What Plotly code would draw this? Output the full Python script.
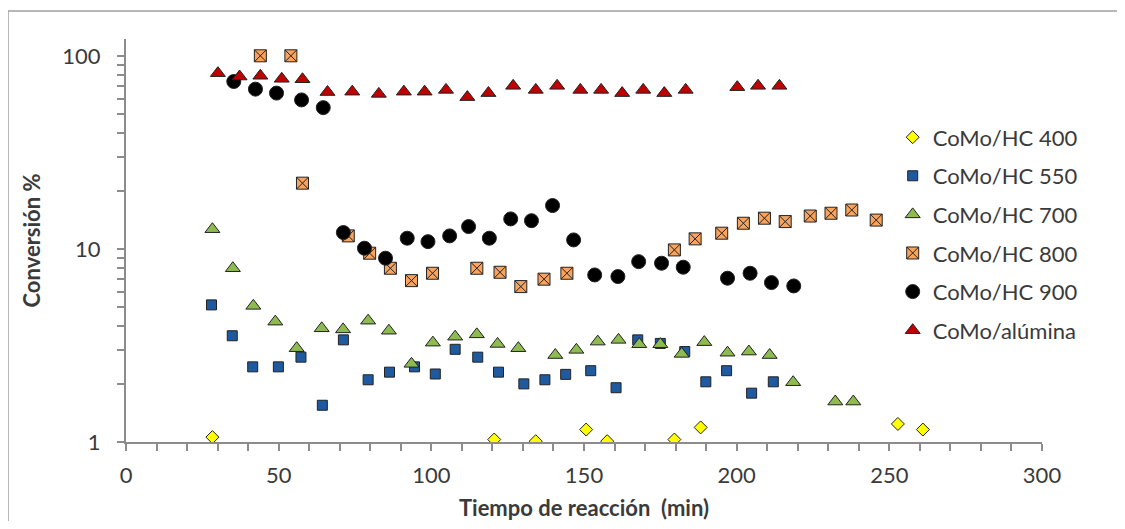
import plotly.graph_objects as go

# ---- data ----
time_400 = [28.3, 120.6, 134.2, 150.7, 157.6, 179.6, 188.2, 252.8, 261.0]
conv_400 = [1.06, 1.03, 1.01, 1.16, 1.01, 1.03, 1.19, 1.24, 1.16]

time_550 = [28.0, 34.8, 41.5, 49.9, 57.3, 64.3, 71.2, 79.3, 86.3, 94.5, 101.3, 107.8,
            115.2, 122.0, 130.3, 137.2, 144.0, 152.2, 160.5, 167.6, 175.0, 183.0,
            189.9, 196.7, 204.9, 212.0]
conv_550 = [5.13, 3.55, 2.45, 2.45, 2.75, 1.55, 3.38, 2.10, 2.30, 2.45, 2.25, 3.02,
            2.75, 2.30, 2.00, 2.10, 2.24, 2.34, 1.91, 3.38, 3.24, 2.94, 2.05, 2.34,
            1.79, 2.05]

time_700 = [28.3, 35.0, 41.7, 48.9, 55.9, 64.1, 71.1, 79.3, 86.1, 93.5, 100.5, 107.8,
            114.9, 121.7, 128.5, 140.6, 147.5, 154.5, 161.3, 168.1, 175.0, 182.0,
            189.4, 197.0, 204.0, 210.8, 218.5, 232.3, 238.2]
conv_700 = [12.65, 7.94, 5.07, 4.20, 3.06, 3.88, 3.83, 4.25, 3.77, 2.54, 3.27, 3.51,
            3.61, 3.22, 3.06, 2.82, 3.00, 3.31, 3.38, 3.21, 3.21, 2.86, 3.29, 2.90,
            2.94, 2.82, 2.04, 1.62, 1.62]

time_800 = [44.0, 54.0, 57.8, 72.8, 79.8, 86.6, 93.5, 100.4, 114.9, 122.5, 129.3,
            136.9, 144.4, 179.6, 186.4, 195.1, 202.2, 209.1, 215.9, 224.1, 230.9,
            237.7, 245.7]
conv_800 = [100.0, 100.0, 21.9, 11.68, 9.5, 7.94, 6.85, 7.48, 7.94, 7.57, 6.38, 6.97,
            7.48, 9.88, 11.27, 12.06, 13.58, 14.42, 13.85, 14.8, 15.3, 15.9, 14.1]

time_900 = [35.3, 42.4, 49.3, 57.5, 64.6, 71.2, 78.1, 85.0, 92.1, 98.9, 106.0, 112.2,
            119.0, 126.0, 132.8, 139.7, 146.6, 153.5, 161.1, 167.9, 175.4, 182.5,
            197.0, 204.4, 211.4, 218.7]
conv_900 = [73.6, 67.2, 64.1, 59.1, 53.9, 12.15, 10.08, 8.95, 11.36, 10.9, 11.68, 13.05,
            11.36, 14.3, 14.0, 16.77, 11.13, 7.33, 7.19, 8.59, 8.43, 8.04, 7.05, 7.48,
            6.69, 6.43]

time_alu = [30.1, 37.2, 44.0, 51.0, 57.8, 66.0, 74.1, 82.8, 91.0, 97.8, 104.8, 111.8,
            118.7, 126.8, 134.2, 141.2, 148.8, 155.6, 162.5, 169.4, 176.3, 183.3,
            200.2, 207.0, 214.0]
conv_alu = [81.3, 78.1, 78.8, 76.0, 75.6, 64.9, 65.2, 63.5, 65.2, 65.2, 66.6, 61.1,
            64.1, 69.9, 66.6, 69.9, 66.6, 66.6, 64.1, 66.6, 64.1, 66.6, 68.8, 69.9, 69.9]

series_names = ["CoMo/HC 400", "CoMo/HC 550", "CoMo/HC 700",
                "CoMo/HC 800", "CoMo/HC 900", "CoMo/alúmina"]

x_ticks = [0, 50, 100, 150, 200, 250, 300]
y_ticks = [1, 10, 100]

# ---- styling ----
FONT = "Lato"
TXT = "#3a3a3a"
AX = "#8c8c8c"
OUT = "#222222"

styles = [
    dict(symbol="diamond", size=10, color="#FFFF00"),
    dict(symbol="square", size=10, color="#1F5AA0"),
    dict(symbol="triangle-up", size=13, color="#8DBB4F"),
    dict(symbol="square-x", size=12, color="#F9A35C"),
    dict(symbol="circle", size=14, color="#000000"),
    dict(symbol="triangle-up", size=13, color="#C00000"),
]

data = [(time_400, conv_400), (time_550, conv_550), (time_700, conv_700),
        (time_800, conv_800), (time_900, conv_900), (time_alu, conv_alu)]

fig = go.Figure()
for i, ((t, c), name, st) in enumerate(zip(data, series_names, styles)):
    fig.add_trace(go.Scatter(
        x=t, y=c, mode="markers", name=name, legendgroup=f"g{i}",
        marker=dict(symbol=st["symbol"], size=st["size"], color=st["color"],
                    line=dict(color=OUT, width=1)),
    ))

# log-axis tick marks at every digit; labels only at the decades
y_tick_all = sorted(set([m * 10 ** e for e in range(0, 2) for m in range(1, 10)] + y_ticks))
y_text_all = [str(v) if v in y_ticks else "" for v in y_tick_all]

fig.update_layout(
    width=1109, height=513,
    margin=dict(l=118, r=75, t=31, b=79, autoexpand=False),
    paper_bgcolor="white", plot_bgcolor="white",
    font=dict(family=FONT, size=22, color=TXT),
    showlegend=True,
    legend=dict(x=0.837, y=0.808, xanchor="left", yanchor="top",
                font=dict(family=FONT, size=22, color=TXT),
                tracegroupgap=7, bgcolor="rgba(0,0,0,0)", itemwidth=30),
    xaxis=dict(
        range=[0, 300], tickvals=x_ticks, ticktext=[str(v) for v in x_ticks],
        showline=True, linecolor=AX, linewidth=2, ticks="outside", ticklen=7,
        tickcolor=AX, tickwidth=1.5, showgrid=False, zeroline=False,
        ticklabelstandoff=6, automargin=False,
        minor=dict(dtick=10, ticks="outside", ticklen=7, tickcolor=AX, tickwidth=1.5,
                   showgrid=False),
        title=dict(text="<b>Tiempo de reacción  (min)</b>", standoff=21,
                   font=dict(family=FONT, size=22, color=TXT)),
    ),
    yaxis=dict(
        type="log", range=[0, 2.087], tickvals=y_tick_all, ticktext=y_text_all,
        showline=True, linecolor=AX, linewidth=2, ticks="outside", ticklen=7,
        tickcolor=AX, tickwidth=1.5, showgrid=False, zeroline=False,
        ticklabelstandoff=12, automargin=False,
        title=dict(text="<b>Conversión %</b>", standoff=16,
                   font=dict(family=FONT, size=22, color=TXT)),
    ),
    shapes=[dict(type="path", xref="paper", yref="paper",
                 path="M -0.1288,-0.4 L -0.1288,1.0695 L 1.3,1.0695",
                 line=dict(color="#a0a0a0", width=1.5), layer="below")],
)

fig.write_html("out.html")
